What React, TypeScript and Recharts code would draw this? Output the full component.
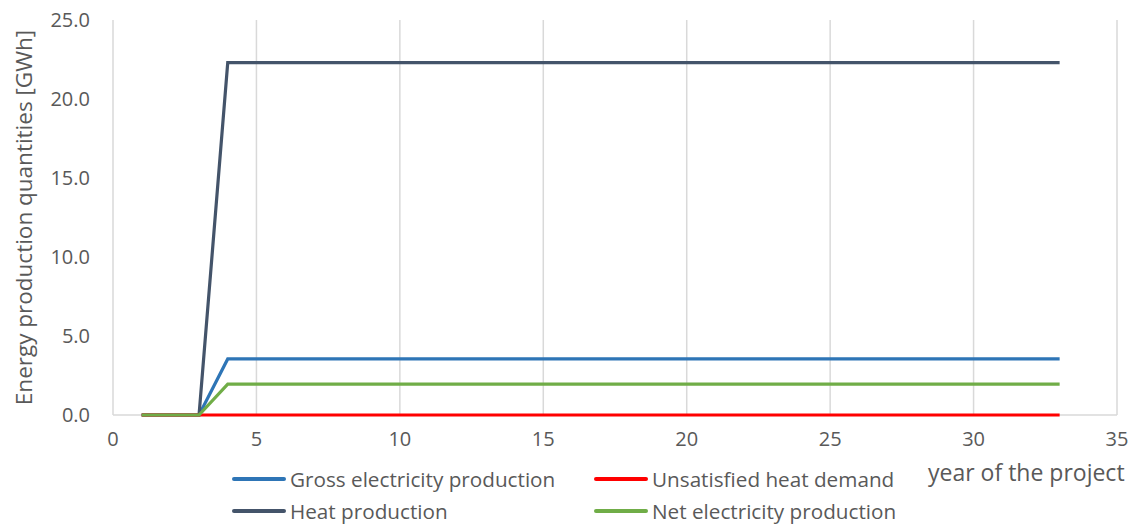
import React from "react";
import { LineChart, Line, XAxis, YAxis, CartesianGrid, Label } from "recharts";

const years = Array.from({ length: 33 }, (_, i) => i + 1);
const gross = [0, 0, 0, 3.55, 3.55, 3.55, 3.55, 3.55, 3.55, 3.55, 3.55, 3.55, 3.55, 3.55, 3.55, 3.55, 3.55, 3.55, 3.55, 3.55, 3.55, 3.55, 3.55, 3.55, 3.55, 3.55, 3.55, 3.55, 3.55, 3.55, 3.55, 3.55, 3.55];
const heat = [0, 0, 0, 22.3, 22.3, 22.3, 22.3, 22.3, 22.3, 22.3, 22.3, 22.3, 22.3, 22.3, 22.3, 22.3, 22.3, 22.3, 22.3, 22.3, 22.3, 22.3, 22.3, 22.3, 22.3, 22.3, 22.3, 22.3, 22.3, 22.3, 22.3, 22.3, 22.3];
const unsatisfied = [0, 0, 0, 0, 0, 0, 0, 0, 0, 0, 0, 0, 0, 0, 0, 0, 0, 0, 0, 0, 0, 0, 0, 0, 0, 0, 0, 0, 0, 0, 0, 0, 0];
const net = [0, 0, 0, 1.95, 1.95, 1.95, 1.95, 1.95, 1.95, 1.95, 1.95, 1.95, 1.95, 1.95, 1.95, 1.95, 1.95, 1.95, 1.95, 1.95, 1.95, 1.95, 1.95, 1.95, 1.95, 1.95, 1.95, 1.95, 1.95, 1.95, 1.95, 1.95, 1.95];
const xTicks = [0, 5, 10, 15, 20, 25, 30, 35];
const yTicks = [0, 5, 10, 15, 20, 25];

const data = years.map((y, i) => ({
  year: y,
  gross: gross[i],
  heat: heat[i],
  unsatisfied: unsatisfied[i],
  net: net[i],
}));

const FONT = "'Open Sans', sans-serif";
const TEXT = "#595959";

const legendItems = [
  { label: "Gross electricity production", color: "#2e75b6", left: 232, top: 479 },
  { label: "Unsatisfied heat demand", color: "#ff0000", left: 594, top: 479 },
  { label: "Heat production", color: "#44546a", left: 232, top: 511 },
  { label: "Net electricity production", color: "#70ad47", left: 594, top: 511 },
];

const bottomLine = (props: any) => {
  const off = props && props.offset;
  if (off && typeof off.top === "number") return [off.top + off.height];
  return [];
};

export default function App() {
  return (
    <div style={{ position: "absolute", left: 0, top: 0, width: 1137, height: 524, background: "#fff", fontFamily: FONT }}>
      <LineChart width={1137} height={524} data={data} margin={{ top: 20, right: 20, left: 0, bottom: 0 }}>
        <CartesianGrid stroke="#d9d9d9" strokeWidth={1.5} horizontalCoordinatesGenerator={bottomLine} />
        <XAxis
          dataKey="year"
          type="number"
          domain={[0, 35]}
          ticks={xTicks}
          height={109}
          axisLine={false}
          tickLine={false}
          tickSize={0}
          tickMargin={17}
          tick={{ fill: TEXT, fontSize: 20, fontFamily: FONT }}
        />
        <YAxis
          type="number"
          domain={[0, 25]}
          ticks={yTicks}
          width={113}
          axisLine={false}
          tickLine={false}
          tickSize={0}
          tickMargin={23}
          tickFormatter={(v: number) => v.toFixed(1)}
          tick={{ fill: TEXT, fontSize: 20, fontFamily: FONT }}
        >
          <Label
            value="Energy production quantities [GWh]"
            angle={-90}
            position="insideLeft"
            offset={24}
            style={{ textAnchor: "middle", fill: TEXT, fontSize: 22.5, fontFamily: FONT }}
          />
        </YAxis>
        <Line dataKey="gross" stroke="#2e75b6" strokeWidth={3.2} dot={false} isAnimationActive={false} />
        <Line dataKey="heat" stroke="#44546a" strokeWidth={3.2} dot={false} isAnimationActive={false} />
        <Line dataKey="unsatisfied" stroke="#ff0000" strokeWidth={3.2} dot={false} isAnimationActive={false} />
        <Line dataKey="net" stroke="#70ad47" strokeWidth={3.2} dot={false} isAnimationActive={false} />
      </LineChart>
      {legendItems.map((it) => (
        <div
          key={it.label}
          style={{ position: "absolute", left: it.left, top: it.top - 15, height: 30, display: "flex", alignItems: "center", whiteSpace: "nowrap" }}
        >
          <div style={{ width: 54, height: 3.5, background: it.color, borderRadius: 2 }} />
          <span style={{ marginLeft: 4, fontSize: 20.7, color: TEXT, fontFamily: FONT }}>{it.label}</span>
        </div>
      ))}
      <div style={{ position: "absolute", left: 928, top: 472 - 17, height: 34, lineHeight: "34px", fontSize: 23, color: TEXT, whiteSpace: "nowrap", fontFamily: FONT }}>
        year of the project
      </div>
    </div>
  );
}
